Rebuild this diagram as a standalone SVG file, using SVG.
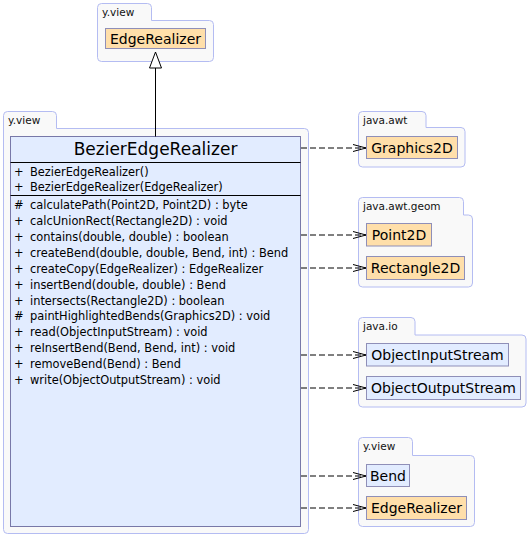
<svg xmlns="http://www.w3.org/2000/svg" width="531" height="538" viewBox="0 0 531 538">
<style>
text{font-family:"DejaVu Sans","Liberation Sans",sans-serif;fill:#000}
.pkg{fill:#f9f9f9;stroke:#b4bcf2;stroke-width:1}
.plabel{font-size:10.5px;fill:#111}
.ext{fill:#ffdfaa;stroke:#8f8fb8;stroke-width:1}
.own{fill:#e2ecff;stroke:#8f8fb8;stroke-width:1}
.nlabel{font-size:14px;text-anchor:middle}
.cls{fill:#e2ecff;stroke:#7878a8;stroke-width:1}
.sep{stroke:#000;stroke-width:1}
.mem{font-size:11.4px}
.dep{stroke:#000;stroke-width:1;stroke-dasharray:6,3;fill:none}
.inh{stroke:#000;stroke-width:1;fill:none}
</style>
<defs>
<marker id="open" viewBox="0 0 14 10" refX="13" refY="5" markerWidth="14" markerHeight="10" markerUnits="userSpaceOnUse" orient="auto">
<path d="M0,1.5 L13,5 L0,8.5" fill="none" stroke="#000" stroke-width="1"/>
</marker>
<marker id="tri" viewBox="0 0 18 14" refX="17" refY="7" markerWidth="18" markerHeight="14" markerUnits="userSpaceOnUse" orient="auto">
<path d="M1,1 L17,7 L1,13 Z" fill="#fff" stroke="#000" stroke-width="1"/>
</marker>
</defs>

<g id="pkg-yview-top">
<path class="pkg" d="M97.5,7.5 Q97.5,3.5 101.5,3.5 H147.5 Q151.5,3.5 151.5,7.5 V20.5 H209.5 Q213.5,20.5 213.5,24.5 V57.5 Q213.5,61.5 209.5,61.5 H101.5 Q97.5,61.5 97.5,57.5 Z"/>
<text class="plabel" x="102" y="15.5">y.view</text>
</g>
<g id="node-EdgeRealizer-top">
<rect class="ext" x="105.5" y="28.5" width="100" height="20"/>
<text class="nlabel" x="155.5" y="43.5">EdgeRealizer</text>
</g>

<g id="pkg-yview-main">
<path class="pkg" d="M3.5,115.5 Q3.5,111.5 7.5,111.5 H52.5 Q56.5,111.5 56.5,115.5 V128.5 H304.5 Q308.5,128.5 308.5,132.5 V529.5 Q308.5,533.5 304.5,533.5 H7.5 Q3.5,533.5 3.5,529.5 Z"/>
<text class="plabel" x="8" y="123.5">y.view</text>
</g>
<g id="node-BezierEdgeRealizer">
<rect class="cls" x="10.5" y="136.5" width="290" height="390"/>
<text x="155.5" y="155" font-size="17" text-anchor="middle">BezierEdgeRealizer</text>
<line class="sep" x1="10.5" y1="162.5" x2="300.5" y2="162.5"/>
<g class="mem">
<text x="14" y="176">+</text><text x="30" y="176">BezierEdgeRealizer()</text>
<text x="14" y="191">+</text><text x="30" y="191">BezierEdgeRealizer(EdgeRealizer)</text>
</g>
<line class="sep" x1="10.5" y1="195.5" x2="300.5" y2="195.5"/>
<g class="mem">
<text x="14" y="209">#</text><text x="30" y="209">calculatePath(Point2D, Point2D) : byte</text>
<text x="14" y="225">+</text><text x="30" y="225">calcUnionRect(Rectangle2D) : void</text>
<text x="14" y="241">+</text><text x="30" y="241">contains(double, double) : boolean</text>
<text x="14" y="257">+</text><text x="30" y="257">createBend(double, double, Bend, int) : Bend</text>
<text x="14" y="272.5">+</text><text x="30" y="272.5">createCopy(EdgeRealizer) : EdgeRealizer</text>
<text x="14" y="288.5">+</text><text x="30" y="288.5">insertBend(double, double) : Bend</text>
<text x="14" y="304.5">+</text><text x="30" y="304.5">intersects(Rectangle2D) : boolean</text>
<text x="14" y="320">#</text><text x="30" y="320">paintHighlightedBends(Graphics2D) : void</text>
<text x="14" y="336">+</text><text x="30" y="336">read(ObjectInputStream) : void</text>
<text x="14" y="352">+</text><text x="30" y="352">reInsertBend(Bend, Bend, int) : void</text>
<text x="14" y="368">+</text><text x="30" y="368">removeBend(Bend) : Bend</text>
<text x="14" y="384">+</text><text x="30" y="384">write(ObjectOutputStream) : void</text>
</g>
</g>

<g id="pkg-java-awt">
<path class="pkg" d="M358.5,115.5 Q358.5,111.5 362.5,111.5 H422 Q426,111.5 426,115.5 V127.5 H461 Q465,127.5 465,131.5 V163 Q465,167 461,167 H362.5 Q358.5,167 358.5,163 Z"/>
<text class="plabel" x="363" y="123.5">java.awt</text>
</g>
<g id="node-Graphics2D">
<rect class="ext" x="366.5" y="136.5" width="91" height="22"/>
<text class="nlabel" x="412" y="152.5">Graphics2D</text>
</g>

<g id="pkg-java-awt-geom">
<path class="pkg" d="M358.5,201.5 Q358.5,197.5 362.5,197.5 H459.5 Q463.5,197.5 463.5,201.5 V215 H468.5 Q472.5,215 472.5,219 V283 Q472.5,287 468.5,287 H362.5 Q358.5,287 358.5,283 Z"/>
<text class="plabel" x="363" y="210">java.awt.geom</text>
</g>
<g id="node-Point2D">
<rect class="ext" x="366.5" y="223.5" width="65" height="22.5"/>
<text class="nlabel" x="399" y="240">Point2D</text>
</g>
<g id="node-Rectangle2D">
<rect class="ext" x="366.5" y="256.5" width="98" height="23"/>
<text class="nlabel" x="415.5" y="273">Rectangle2D</text>
</g>

<g id="pkg-java-io">
<path class="pkg" d="M358.5,321.5 Q358.5,317.5 362.5,317.5 H411 Q415,317.5 415,321.5 V335 H522 Q526,335 526,339 V403 Q526,407 522,407 H362.5 Q358.5,407 358.5,403 Z"/>
<text class="plabel" x="363" y="330">java.io</text>
</g>
<g id="node-ObjectInputStream">
<rect class="own" x="366.5" y="343.5" width="142" height="22.5"/>
<text class="nlabel" x="437.5" y="360">ObjectInputStream</text>
</g>
<g id="node-ObjectOutputStream">
<rect class="own" x="366.5" y="376.5" width="154" height="23"/>
<text class="nlabel" x="443.5" y="393">ObjectOutputStream</text>
</g>

<g id="pkg-yview-bottom">
<path class="pkg" d="M358.5,441.5 Q358.5,437.5 362.5,437.5 H408.5 Q412.5,437.5 412.5,441.5 V455.5 H470.5 Q474.5,455.5 474.5,459.5 V522.5 Q474.5,526.5 470.5,526.5 H362.5 Q358.5,526.5 358.5,522.5 Z"/>
<text class="plabel" x="363" y="450">y.view</text>
</g>
<g id="node-Bend">
<rect class="own" x="366.5" y="464.5" width="43" height="22"/>
<text class="nlabel" x="388" y="480.5">Bend</text>
</g>
<g id="node-EdgeRealizer-bottom">
<rect class="ext" x="366.5" y="496.5" width="100" height="23"/>
<text class="nlabel" x="416.5" y="513">EdgeRealizer</text>
</g>

<g id="connectors">
<line class="inh" x1="155.5" y1="136.5" x2="155.5" y2="52" marker-end="url(#tri)"/>
<line class="dep" x1="301" y1="148" x2="366" y2="148" marker-end="url(#open)"/>
<line class="dep" x1="301" y1="235" x2="366" y2="235" marker-end="url(#open)"/>
<line class="dep" x1="301" y1="268" x2="366" y2="268" marker-end="url(#open)"/>
<line class="dep" x1="301" y1="355" x2="366" y2="355" marker-end="url(#open)"/>
<line class="dep" x1="301" y1="388" x2="366" y2="388" marker-end="url(#open)"/>
<line class="dep" x1="301" y1="476" x2="366" y2="476" marker-end="url(#open)"/>
<line class="dep" x1="301" y1="508" x2="366" y2="508" marker-end="url(#open)"/>
</g>
</svg>
